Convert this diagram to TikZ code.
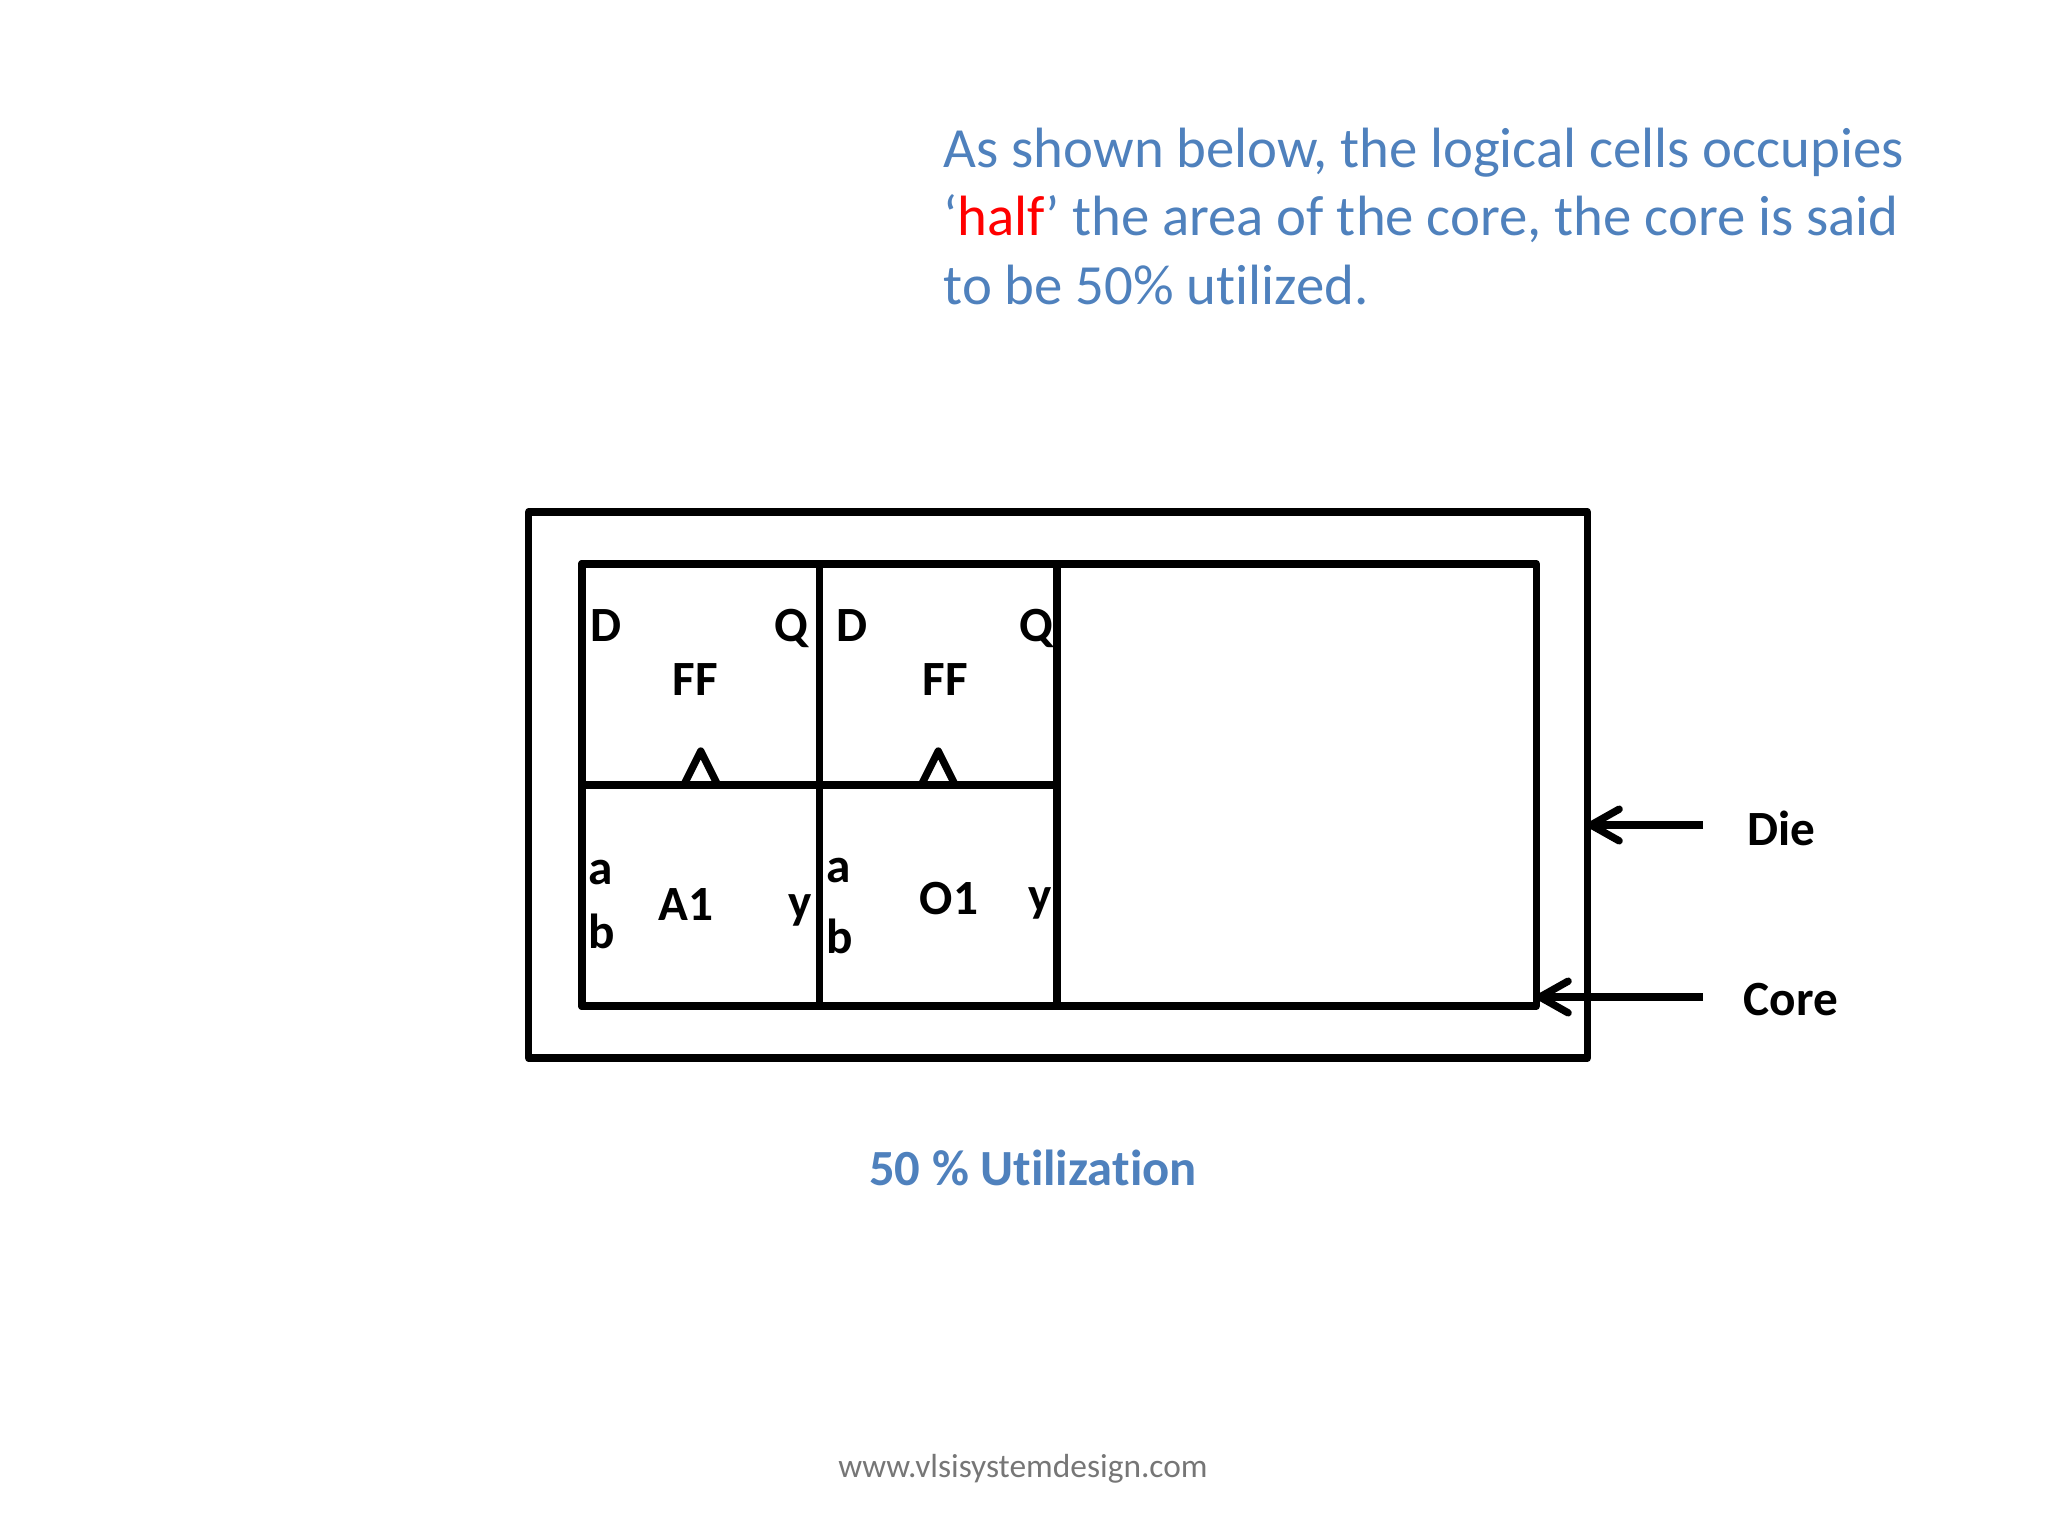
\documentclass[tikz,border=0pt]{standalone}
\usepackage{fontspec}
\setmainfont{Carlito}[Ligatures={TeX,NoCommon}]
\usetikzlibrary{arrows.meta}
\definecolor{titleblue}{RGB}{79,129,189}
\definecolor{halfred}{RGB}{255,0,0}
\definecolor{webgray}{RGB}{118,118,118}

\begin{document}
\begin{tikzpicture}[x=0.01cm,y=-0.01cm,
    thickline/.style={line width=2.1pt,line join=round},
    boxline/.style={thickline,draw,outer sep=0pt,inner sep=0pt},
    pintxt/.style={font=\fontsize{14}{16}\selectfont\bfseries,inner sep=0pt},
    >={Straight Barb[length=8pt,width=9pt,round]}]
        \useasboundingbox (0,0) rectangle (2048,1536);

        % heading
        \node[titleblue,anchor=base west,align=left,inner sep=0pt,
              font=\fontsize{16.15}{19.4}\selectfont] (title) at (943,304)
              {As shown below, the logical cells occupies\\
               ‘\textcolor{halfred}{half}’ the area of the core, the core is said\\
               to be 50\% utilized.};

        % die and core
        \node[boxline,minimum width=10.58cm,minimum height=5.46cm] (die) at (1058,785) {};
        \node[boxline,minimum width=9.54cm,minimum height=4.42cm] (core) at (1059,785) {};

        % placed cells
        \node[boxline,minimum width=2.375cm,minimum height=2.21cm] (ff1) at (700.75,674.5) {};
        \node[boxline,minimum width=2.375cm,minimum height=2.21cm] (ff2) at (938.25,674.5) {};
        \node[boxline,minimum width=2.375cm,minimum height=2.21cm] (a1) at (700.75,895.5) {};
        \node[boxline,minimum width=2.375cm,minimum height=2.21cm] (o1) at (938.25,895.5) {};

        % clock inputs
        \draw[thickline] (ff1.south) ++(-17,0) -- ++(17,-34) -- ++(17,34);
        \draw[thickline] (ff2.south) ++(-17,0) -- ++(17,-34) -- ++(17,34);

        % cell texts
        \node[pintxt,anchor=base] (ff1name) at (695,695) {FF};
        \node[pintxt,anchor=base] (ff2name) at (945,695) {FF};
        \node[pintxt,anchor=base west] (ff1d) at (590,641) {D};
        \node[pintxt,anchor=base east] (ff1q) at (809,641) {Q};
        \node[pintxt,anchor=base west] (ff2d) at (836,641) {D};
        \node[pintxt,anchor=base east] (ff2q) at (1054,641) {Q};
        \node[pintxt,anchor=base] (a1name) at (686,920) {A1};
        \node[pintxt,anchor=base] (o1name) at (949,914) {O1};
        \node[pintxt,anchor=base west] (a1a) at (588,884) {a};
        \node[pintxt,anchor=base west] (a1b) at (588,948) {b};
        \node[pintxt,anchor=base east] (a1y) at (813,918) {y};
        \node[pintxt,anchor=base west] (o1a) at (826,882) {a};
        \node[pintxt,anchor=base west] (o1b) at (826,953) {b};
        \node[pintxt,anchor=base east] (o1y) at (1053,911) {y};

        % die / core pointers
        \node[pintxt,anchor=base west] (dielbl) at (1747,845) {Die};
        \node[pintxt,anchor=base west] (corelbl) at (1743,1015) {Core};
        \coordinate (dietail) at (1703,825);
        \coordinate (coretail) at (1703,997);
        \draw[thickline,->] (dietail) -- (dietail -| die.east);
        \draw[thickline,->] (coretail) -- (coretail -| core.east);

        % caption and footer
        \node[titleblue,anchor=base,inner sep=0pt,font=\fontsize{14.4}{17}\selectfont\bfseries]
              (util) at (1033,1185) {50 \% Utilization};
        \node[webgray,anchor=base,inner sep=0pt,font=\fontsize{9.5}{11}\selectfont]
              (web) at (1023,1477) {www.vlsisystemdesign.com};
    \end{tikzpicture}
\end{document}
